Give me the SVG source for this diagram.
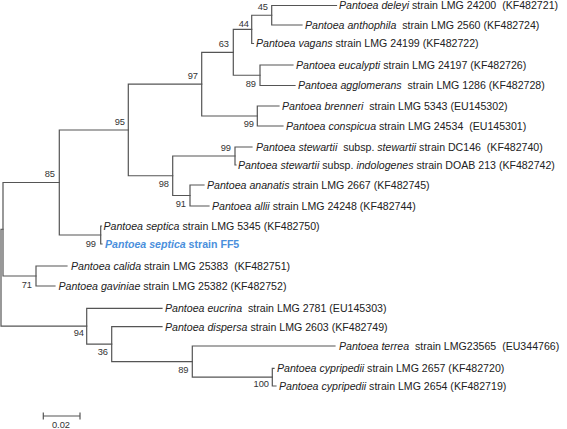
<svg xmlns="http://www.w3.org/2000/svg" width="567" height="429" viewBox="0 0 567 429">
<style>
.br{stroke:#555;stroke-width:1.2;fill:none;stroke-linecap:square}
.lf{font-family:"Liberation Sans",Arial,sans-serif;font-size:10.6px;fill:#222;white-space:pre}
.sp{font-style:italic}
.bs{font-family:"Liberation Sans",Arial,sans-serif;font-size:9.3px;fill:#333;text-anchor:end}
.ff5{fill:#4a8fdc;font-weight:bold}
</style>
<rect width="567" height="429" fill="#fff"/>
<g id="connectors" class="br">
<path d="M271.7 5.5V25M271.7 5.5H336.5M271.7 25H302"/>
<path d="M251.7 15.25V43.5M251.7 15.25H271.7M251.7 43.5H253.5"/>
<path d="M260 65V85.5M260 65H293M260 85.5H295"/>
<path d="M233.3 29.4V75.25M233.3 29.4H251.7M233.3 75.25H260"/>
<path d="M257.3 106V126M257.3 106H279M257.3 126H283"/>
<path d="M201.7 52.3V116M201.7 52.3H233.3M201.7 116H257.3"/>
<path d="M235 147V165M235 147H252M235 165H236"/>
<path d="M190 185V206M190 185H204M190 206H209"/>
<path d="M172.7 156V195.5M172.7 156H235M172.7 195.5H190"/>
<path d="M128.3 84.2V175.75M128.3 84.2H201.7M128.3 175.75H172.7"/>
<path d="M100.7 226V244M100.7 226H101.5M100.7 244H102"/>
<path d="M59.3 130V235M59.3 130H128.3M59.3 235H100.7"/>
<path d="M36 266V286M36 266H67M36 286H55"/>
<path d="M3 182.5V276M3 182.5H59.3M3 276H36"/>
<path d="M272.3 368.3V386M272.3 368.3H274M272.3 386H276"/>
<path d="M192.3 346V377.2M192.3 346H335M192.3 377.2H272.3"/>
<path d="M111.7 326.7V361.6M111.7 326.7H162M111.7 361.6H192.3"/>
<path d="M86.7 308.3V344.1M86.7 308.3H162M86.7 344.1H111.7"/>
<path d="M1 229.25V326.2M1 229.25H3M1 326.2H86.7"/>
<path d="M43.3 416H80M43.3 413V419M80 413V419"/>
</g>
<g id="bootstrap">
<text class="bs" x="268" y="10">45</text>
<text class="bs" x="249" y="26.5">44</text>
<text class="bs" x="229" y="46.5">63</text>
<text class="bs" x="198" y="78.5">97</text>
<text class="bs" x="256" y="87">89</text>
<text class="bs" x="254" y="127">99</text>
<text class="bs" x="125" y="125">95</text>
<text class="bs" x="231" y="151">99</text>
<text class="bs" x="169" y="187">98</text>
<text class="bs" x="186" y="206.5">91</text>
<text class="bs" x="55" y="177">85</text>
<text class="bs" x="96" y="247">99</text>
<text class="bs" x="32" y="287.5">71</text>
<text class="bs" x="84" y="336">94</text>
<text class="bs" x="108" y="354.5">36</text>
<text class="bs" x="188.5" y="373">89</text>
<text class="bs" x="269" y="387">100</text>
<text class="bs" x="70" y="428">0.02</text>
</g>
<g id="leaves">
<text id="deleyi" class="lf" x="339" y="9.3"><tspan class="sp">Pantoea deleyi</tspan> strain LMG 24200  (KF482721)</text>
<text id="anthophila" class="lf" x="305" y="28.8"><tspan class="sp">Pantoea anthophila</tspan>  strain LMG 2560 (KF482724)</text>
<text id="vagans" class="lf" x="256" y="47.3"><tspan class="sp">Pantoea vagans</tspan> strain LMG 24199 (KF482722)</text>
<text id="eucalypti" class="lf" x="296" y="68.8"><tspan class="sp">Pantoea eucalypti</tspan> strain LMG 24197 (KF482726)</text>
<text id="agglomerans" class="lf" x="298" y="89.3"><tspan class="sp">Pantoea agglomerans</tspan>  strain LMG 1286 (KF482728)</text>
<text id="brenneri" class="lf" x="282" y="109.8"><tspan class="sp">Pantoea brenneri</tspan>  strain LMG 5343 (EU145302)</text>
<text id="conspicua" class="lf" x="286" y="129.8"><tspan class="sp">Pantoea conspicua</tspan> strain LMG 24534  (EU145301)</text>
<text id="stewartii" class="lf" x="256" y="150.8"><tspan class="sp">Pantoea stewartii</tspan>  subsp. <tspan class="sp">stewartii</tspan> strain DC146  (KF482740)</text>
<text id="indologenes" class="lf" x="238" y="168.8"><tspan class="sp">Pantoea stewartii</tspan> subsp. <tspan class="sp">indologenes</tspan> strain DOAB 213 (KF482742)</text>
<text id="ananatis" class="lf" x="207" y="188.8"><tspan class="sp">Pantoea ananatis</tspan> strain LMG 2667 (KF482745)</text>
<text id="allii" class="lf" x="212" y="209.8"><tspan class="sp">Pantoea allii</tspan> strain LMG 24248 (KF482744)</text>
<text id="septica" class="lf" x="103.5" y="229.8"><tspan class="sp">Pantoea septica</tspan> strain LMG 5345 (KF482750)</text>
<text id="ff5" class="lf ff5" x="105" y="247.8"><tspan class="sp">Pantoea septica</tspan> strain FF5</text>
<text id="calida" class="lf" x="71" y="269.8"><tspan class="sp">Pantoea calida</tspan> strain LMG 25383  (KF482751)</text>
<text id="gaviniae" class="lf" x="58.5" y="289.8"><tspan class="sp">Pantoea gaviniae</tspan> strain LMG 25382 (KF482752)</text>
<text id="eucrina" class="lf" x="165" y="312.1"><tspan class="sp">Pantoea eucrina</tspan>  strain LMG 2781 (EU145303)</text>
<text id="dispersa" class="lf" x="165" y="330.5"><tspan class="sp">Pantoea dispersa</tspan> strain LMG 2603 (KF482749)</text>
<text id="terrea" class="lf" x="339" y="349.8"><tspan class="sp">Pantoea terrea</tspan>  strain LMG23565  (EU344766)</text>
<text id="cyp2657" class="lf" x="277" y="372.1"><tspan class="sp">Pantoea cypripedii</tspan> strain LMG 2657 (KF482720)</text>
<text id="cyp2654" class="lf" x="279" y="389.8"><tspan class="sp">Pantoea cypripedii</tspan> strain LMG 2654 (KF482719)</text>
</g>
</svg>
